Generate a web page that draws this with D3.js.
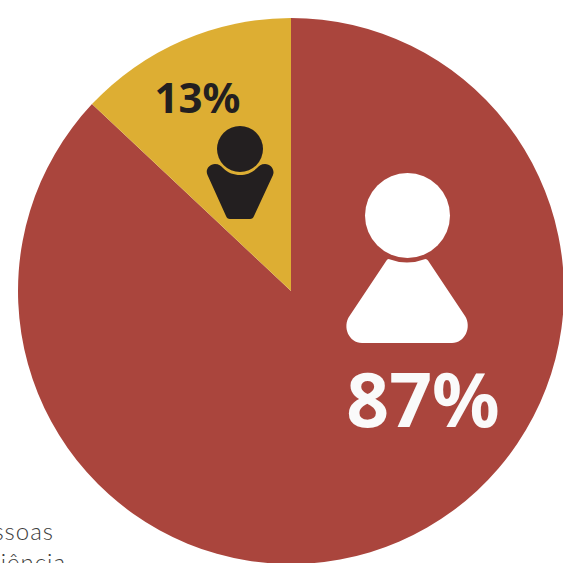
<!DOCTYPE html>
<html>
<head>
<meta charset="utf-8">
<script src="https://cdn.jsdelivr.net/npm/d3@7/dist/d3.min.js"></script>
<style>
html,body{margin:0;padding:0;background:#fff;overflow:hidden}
svg{display:block}
</style>
</head>
<body>
<svg id="chart" width="563" height="563"></svg>
<script>
// Share of people in each group, in percent
const categories = ["majority", "minority"];
const shares = [87, 13];
const sliceColors = ["#aa453d", "#ddae33"];
const shareLabels = ["87%", "13%"];

const svg = d3.select("#chart");
const cx = 291, cy = 291, outer = 273;

// Text cut off by the page edge, running under the pie
const captionLines = ["Pessoas", "com deficiência"];
svg.selectAll("text.caption").data(captionLines).join("text")
  .attr("class", "caption")
  .attr("x", (d, i) => i === 0 ? 54 : 66)
  .attr("y", (d, i) => 540 + i * 31)
  .attr("text-anchor", "end")
  .attr("font-family", "Lato, 'Open Sans', sans-serif")
  .attr("font-weight", 300)
  .attr("font-size", 24)
  .attr("letter-spacing", 1)
  .attr("fill", "#3c3c3c")
  .text(d => d);

// Pie begins at twelve o'clock and runs clockwise
const pie = d3.pie().sort(null)(shares);
const arc = d3.arc().innerRadius(0).outerRadius(outer);
const pieG = svg.append("g").attr("transform", `translate(${cx},${cy})`);
pieG.selectAll("path").data(pie).join("path")
  .attr("d", arc)
  .attr("fill", (d, i) => sliceColors[i]);

// Large person figure on the majority slice
const big = svg.append("g").attr("fill", "#fff");
big.append("circle").attr("cx", 407.5).attr("cy", 215.5).attr("r", 42.5);
big.append("path").attr("d",
  "M388.5 259 Q407 266 425.5 259 Q427 259 428 260.5 L465 316 C472 327 465 343 452 343 L362 343 C349 343 342 327 349.5 316 L386.5 260.5 Q387.2 259 388.5 259 Z");

// Small person figure on the minority slice
const small = svg.append("g").attr("fill", "#231f20");
small.append("circle").attr("cx", 240).attr("cy", 149).attr("r", 23);
small.append("path").attr("d",
  "M215 164 C219 164 221 166 223 168 C228 173 234 175 240 175 C246 175 252 173 257 168 C259 166 261 164 265 164 C271 164 275 170 273 175 L254 216 Q253 219 250 219 L230 219 Q227 219 226 216 L207.5 175 C205 170 209 164 215 164 Z");

// Percentage labels
const labelFont = "'Noto Sans', 'Open Sans', sans-serif";
svg.append("text")
  .attr("x", 423).attr("y", 427)
  .attr("text-anchor", "middle")
  .attr("font-family", labelFont).attr("font-weight", 700)
  .attr("font-size", 75).attr("fill", "#fafafa")
  .text(shareLabels[0]);
svg.append("text")
  .attr("x", 197.5).attr("y", 113)
  .attr("text-anchor", "middle")
  .attr("font-family", labelFont).attr("font-weight", 700)
  .attr("font-size", 42).attr("fill", "#231f20")
  .text(shareLabels[1]);
</script>
</body>
</html>
